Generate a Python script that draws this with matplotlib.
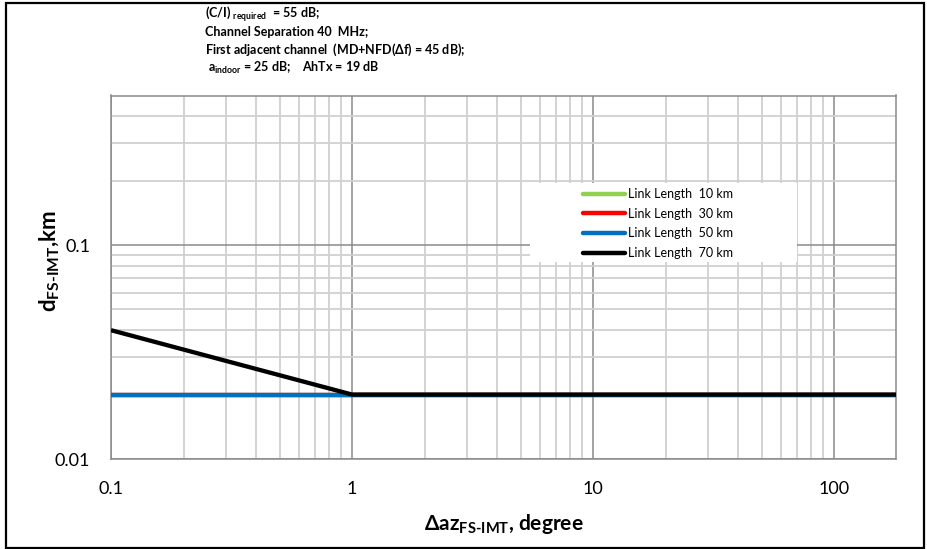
import numpy as np
import matplotlib
matplotlib.use('Agg')
import matplotlib.pyplot as plt
from matplotlib.patches import Rectangle
from matplotlib.ticker import FixedLocator, FixedFormatter, NullFormatter

plt.rcParams['font.family'] = ['Lato', 'DejaVu Sans']
plt.rcParams['mathtext.fontset'] = 'custom'
plt.rcParams['mathtext.rm'] = 'Lato:bold'
plt.rcParams['mathtext.it'] = 'Lato:bold'
plt.rcParams['mathtext.bf'] = 'Lato:bold'
plt.rcParams['mathtext.default'] = 'rm'

# data
az = [0.1, 1, 180]
d_10km = [0.02, 0.02, 0.02]
d_30km = [0.02, 0.02, 0.02]
d_50km = [0.02, 0.02, 0.02]
d_70km = [0.04, 0.02, 0.02]
series = [('Link Length  10 km', d_10km, '#92D050'),
          ('Link Length  30 km', d_30km, '#FF0000'),
          ('Link Length  50 km', d_50km, '#0070C0'),
          ('Link Length  70 km', d_70km, '#000000')]
x_ticks = [0.1, 1, 10, 100]
x_ticklabels = ['0.1', '1', '10', '100']
y_ticks = [0.01, 0.1]
y_ticklabels = ['0.01', '0.1']

fig = plt.figure(figsize=(9.28, 5.49), dpi=100)
ax = fig.add_axes([111/928, 1-459/549, 785/928, 363.5/549])

for name, vals, col in series:
    ax.plot(az, vals, color=col, lw=3.1, label=name, zorder=3, solid_capstyle='butt')

ax.set_xscale('log')
ax.set_yscale('log')
ax.set_xlim(0.1, 180)
ax.set_ylim(0.01, 0.5)

ax.xaxis.set_major_locator(FixedLocator(x_ticks))
ax.xaxis.set_major_formatter(FixedFormatter(x_ticklabels))
ax.yaxis.set_major_locator(FixedLocator(y_ticks))
ax.yaxis.set_major_formatter(FixedFormatter(y_ticklabels))
xminor = [m * 10.0**e for e in range(-1, 3) for m in range(2, 10)]
yminor = [m * 10.0**e for e in range(-2, 0) for m in range(2, 10)]
ax.xaxis.set_minor_locator(FixedLocator(xminor))
ax.yaxis.set_minor_locator(FixedLocator(yminor))
ax.xaxis.set_minor_formatter(NullFormatter())
ax.yaxis.set_minor_formatter(NullFormatter())

ax.grid(True, which='major', color='#8a8a8a', lw=1.1, zorder=1)
ax.grid(True, which='minor', color='#d0d0d0', lw=1.3, zorder=0.9)
ax.set_axisbelow(True)
ax.tick_params(which='both', length=0)
ax.tick_params(axis='x', pad=16, labelsize=13)
ax.tick_params(axis='y', pad=15, labelsize=13)
for s in ax.spines.values():
    s.set_color('#8a8a8a')
    s.set_linewidth(1.1)

ax.set_xlabel(r'$\Delta$az$_{\mathrm{FS\text{-}IMT}}$, degree', fontsize=15, fontweight='bold')
ax.xaxis.set_label_coords(0.5, -0.145)
ax.set_ylabel(r'd$_{\mathrm{FS\text{-}IMT}}$,km', fontsize=16, fontweight='bold')
ax.yaxis.set_label_coords(-0.063, 0.545)

# white box behind legend
ax.add_patch(Rectangle(((530-111)/785, (459-262)/363.5), 267/785, 79/363.5,
                       transform=ax.transAxes, facecolor='white', edgecolor='none', zorder=2))
leg = ax.legend(loc='center', bbox_to_anchor=((658-111)/785, (459-223.5)/363.5),
                frameon=False, fontsize=9, handlelength=3.4, handletextpad=0.2,
                labelspacing=0.62, borderpad=0.2)
for h in leg.get_lines():
    h.set_linewidth(3.2)
    h.set_solid_capstyle('round')

title_lines = [r'(C/I) $_{\mathrm{required}}$  = 55 dB;',
               'Channel Separation 40  MHz;',
               r'First adjacent channel  (MD+NFD($\Delta$f) = 45 dB);',
               r' a$_{\mathrm{indoor}}$ = 25 dB;    AhTx = 19 dB']
for i, t in enumerate(title_lines):
    fig.text(205/928, 1 - (14 + 18*i)/549, t, fontsize=9, fontweight='bold',
             ha='left', va='center')

fig.patches.append(Rectangle((6/928, 1.5/549), 918/928, 545/549, transform=fig.transFigure,
                             fill=False, edgecolor='black', lw=1.6))

fig.savefig('out.png', dpi=100)
